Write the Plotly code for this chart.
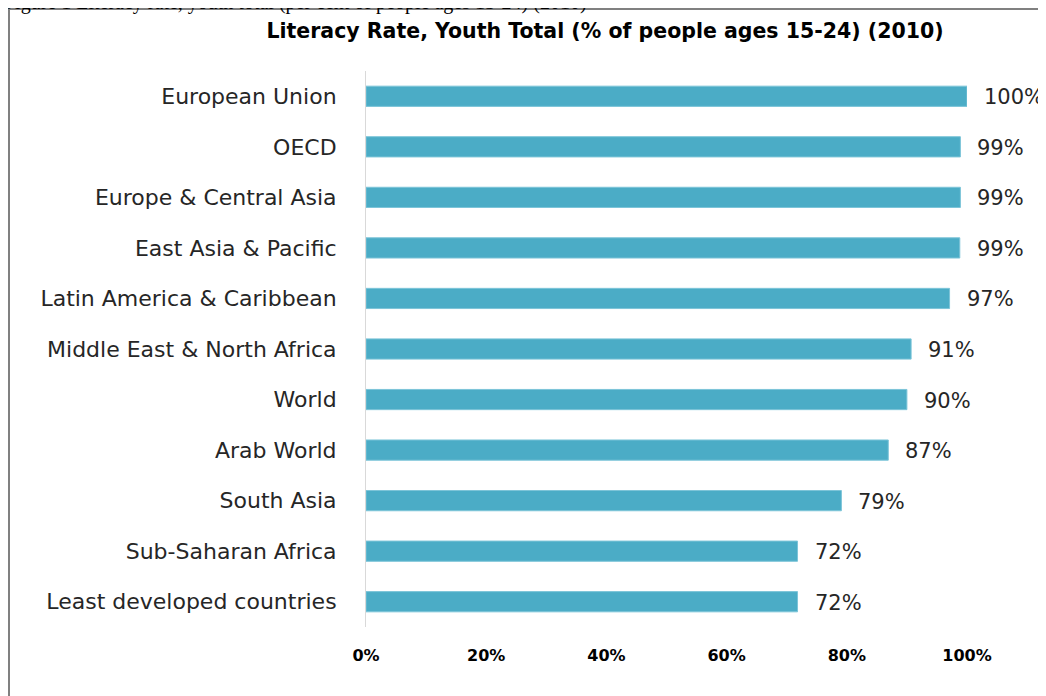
import plotly.graph_objects as go

categories = ["European Union", "OECD", "Europe & Central Asia", "East Asia & Pacific",
              "Latin America & Caribbean", "Middle East & North Africa", "World",
              "Arab World", "South Asia", "Sub-Saharan Africa", "Least developed countries"]
values = [100.0, 98.9, 98.9, 98.8, 97.1, 90.7, 90.0, 86.9, 79.1, 71.8, 71.8]
labels = ["100%", "99%", "99%", "99%", "97%", "91%", "90%", "87%", "79%", "72%", "72%"]
xticks = [0, 20, 40, 60, 80, 100]
xticklabels = ["0%", "20%", "40%", "60%", "80%", "100%"]

W, H = 1046, 696
L, R, T, B = 358, 87, 63, 77
pw, ph = W - L - R, H - T - B

def px_x(p):
    return (p - L) / pw

def px_y(p):
    return (H - B - p) / ph

fig = go.Figure(go.Bar(
    x=values, y=categories, orientation="h",
    marker=dict(color="#4BACC6", line=dict(color="#7cc4d8", width=1)),
    width=0.4, hoverinfo="skip",
))

annotations = []
for c, v, t in zip(categories, values, labels):
    annotations.append(dict(x=v, y=c, xref="x", yref="y", text=t, showarrow=False,
                            xanchor="left", yanchor="middle", xshift=15, yshift=-1,
                            font=dict(family="DejaVu Sans", size=21, color="#262626")))

annotations.append(dict(x=px_x(-6), y=px_y(-6), xref="paper", yref="paper",
                        text="Figure 1 Literacy rate, youth total (per cent of people ages 15-24) (2010)",
                        showarrow=False, xanchor="left", yanchor="middle",
                        font=dict(family="Liberation Serif", size=20, color="#000")))

fig.update_layout(
    width=W, height=H,
    margin=dict(l=L, r=R, t=T, b=B, autoexpand=False),
    paper_bgcolor="white", plot_bgcolor="white",
    showlegend=False,
    title=dict(text="<b>Literacy Rate, Youth Total (% of people ages 15-24) (2010)</b>",
               x=597 / W, y=1 - 23 / H, xanchor="center", yanchor="middle",
               xref="container", yref="container",
               font=dict(family="DejaVu Sans", size=20.5, color="#000")),
    xaxis=dict(range=[0, 100], tickvals=xticks, ticktext=xticklabels,
               showgrid=False, zeroline=False, showline=False, ticks="",
               ticklabelstandoff=17,
               tickfont=dict(family="DejaVu Sans", size=16, color="#000", weight="bold")),
    yaxis=dict(categoryorder="array", categoryarray=categories[::-1],
               range=[-0.5, len(categories) - 0.5],
               showgrid=False, zeroline=False, ticks="", ticklabelstandoff=24,
               showline=True, linecolor="#d9d9d9", linewidth=1,
               tickfont=dict(family="DejaVu Sans", size=22, color="#262626")),
    annotations=annotations,
    shapes=[
        dict(type="line", xref="paper", yref="paper", x0=px_x(1), x1=px_x(1),
             y0=px_y(1), y1=px_y(720), line=dict(color="#808080", width=2)),
        dict(type="line", xref="paper", yref="paper", x0=px_x(1), x1=px_x(1060),
             y0=px_y(1), y1=px_y(1), line=dict(color="#808080", width=2)),
    ],
)

fig.write_html("out.html")
